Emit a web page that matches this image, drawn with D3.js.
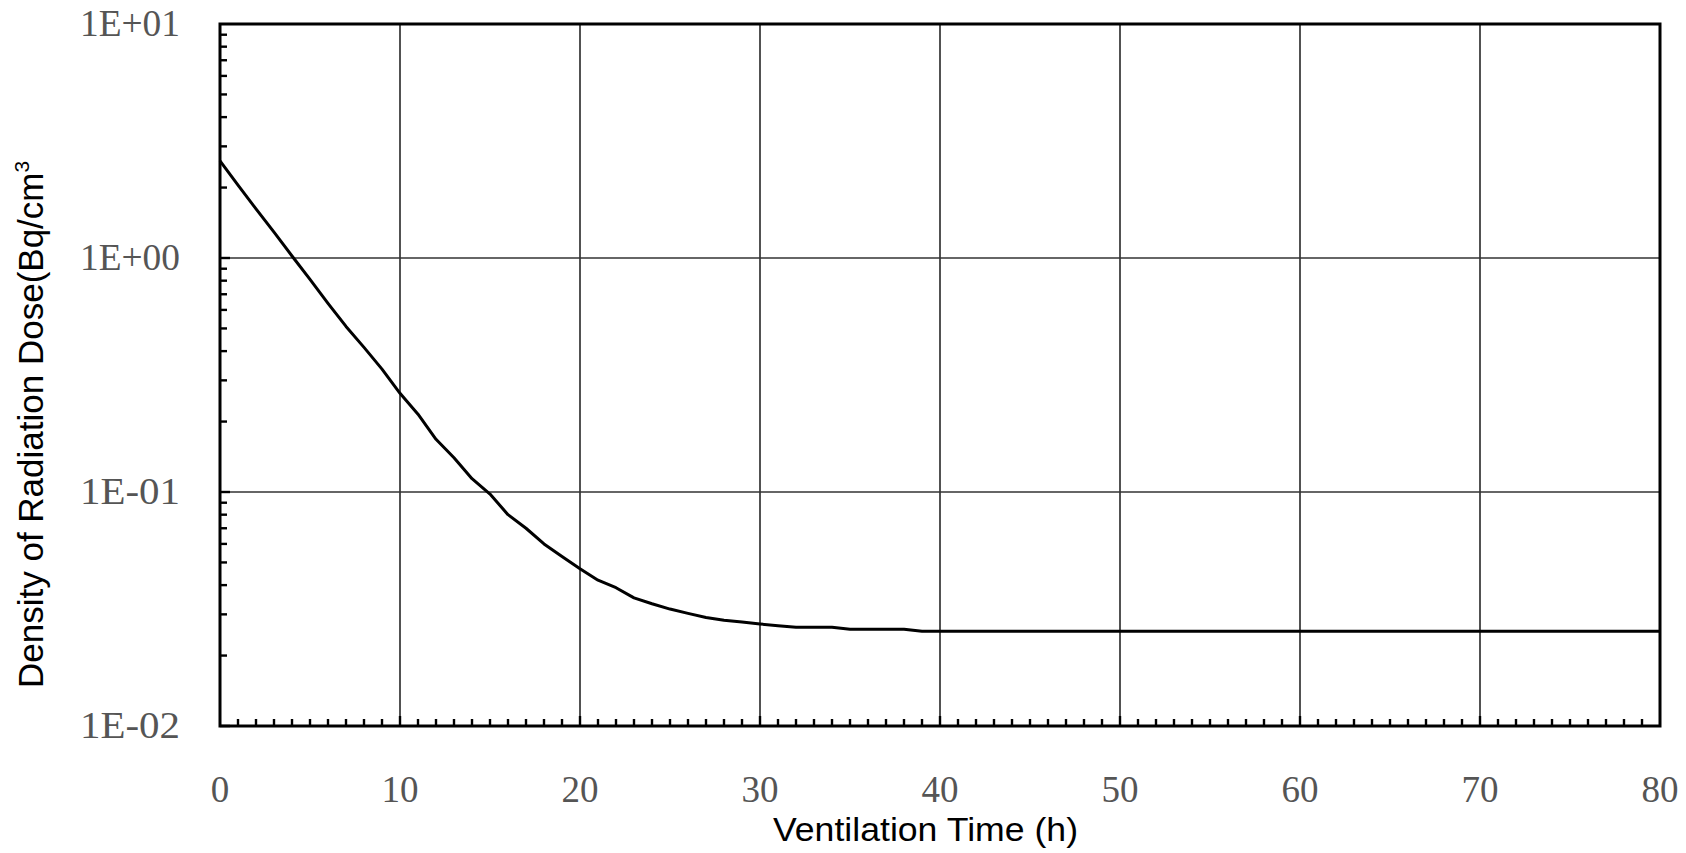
<!DOCTYPE html>
<html>
<head>
    <meta charset="utf-8">
    <title>Ventilation Time vs Radiation Dose</title>
    <script src="https://d3js.org/d3.v7.min.js"></script>
    <style>
        body { margin: 0; background: #fff; }
        .tick-label { font-family: "Liberation Serif", serif; font-size: 37px; fill: #555; }
        .axis-title { font-family: "Liberation Sans", Arial, sans-serif; fill: #000; }
    </style>
</head>
<body>
<script>
    // hourly readings of the curve (t in hours, density in Bq/cm3)
    let hours = [];
    for (let h = 0; h <= 80; h++) hours.push(h);
    let density = [
        2.6, 2.05, 1.62, 1.29, 1.02, 0.81, 0.64, 0.51, 0.415, 0.335,
        0.264, 0.215, 0.168, 0.140, 0.114, 0.098, 0.080, 0.070, 0.060, 0.053,
        0.047, 0.042, 0.039, 0.0353, 0.0333, 0.0316, 0.0303, 0.0291, 0.0283, 0.0278,
        0.0273, 0.0268, 0.0264, 0.0264, 0.0264, 0.0259, 0.0259, 0.0259, 0.0259, 0.0254,
        0.0254, 0.0254, 0.0254, 0.0254, 0.0254, 0.0254, 0.0254, 0.0254, 0.0254, 0.0254,
        0.0254, 0.0254, 0.0254, 0.0254, 0.0254, 0.0254, 0.0254, 0.0254, 0.0254, 0.0254,
        0.0254, 0.0254, 0.0254, 0.0254, 0.0254, 0.0254, 0.0254, 0.0254, 0.0254, 0.0254,
        0.0254, 0.0254, 0.0254, 0.0254, 0.0254, 0.0254, 0.0254, 0.0254, 0.0254, 0.0254,
        0.0254
    ];

    let xTicks = [0, 10, 20, 30, 40, 50, 60, 70, 80];
    let yTicks = [0.01, 0.1, 1, 10];
    let yTickLabels = ["1E-02", "1E-01", "1E+00", "1E+01"];

    let width = 1686, height = 853;
    let pLeft = 220, pRight = 1660, pTop = 24, pBottom = 726;

    let svg = d3.select("body")
        .append("svg")
            .attr("width", width)
            .attr("height", height);

    let x = d3.scaleLinear().domain([0, 80]).range([pLeft, pRight]);
    let y = d3.scaleLog().domain([0.01, 10]).range([pBottom, pTop]);

    // grid
    svg.append("g")
        .selectAll("line")
        .data(xTicks.slice(1, -1))
        .join("line")
            .attr("x1", d => x(d)).attr("x2", d => x(d))
            .attr("y1", pTop).attr("y2", pBottom)
            .attr("stroke", "#333")
            .attr("stroke-width", 1.7);

    svg.append("g")
        .selectAll("line")
        .data(yTicks.slice(1, -1))
        .join("line")
            .attr("x1", pLeft).attr("x2", pRight)
            .attr("y1", d => y(d)).attr("y2", d => y(d))
            .attr("stroke", "#333")
            .attr("stroke-width", 1.7);

    // minor ticks, inside the frame
    let xMinor = d3.range(1, 80);
    svg.append("g")
        .selectAll("line")
        .data(xMinor)
        .join("line")
            .attr("x1", d => x(d)).attr("x2", d => x(d))
            .attr("y1", pBottom)
            .attr("y2", d => pBottom - (d % 10 === 0 ? 10 : 7))
            .attr("stroke", "#000")
            .attr("stroke-width", 2.4);

    let yMinor = [];
    [0.01, 0.1, 1].forEach(dec => {
        for (let k = 1; k <= 9; k++) yMinor.push({v: dec * k, major: k === 1});
    });
    svg.append("g")
        .selectAll("line")
        .data(yMinor)
        .join("line")
            .attr("x1", pLeft)
            .attr("x2", d => pLeft + (d.major ? 10 : 7))
            .attr("y1", d => y(d.v)).attr("y2", d => y(d.v))
            .attr("stroke", "#000")
            .attr("stroke-width", 2.4);

    // curve
    let line = d3.line()
        .x((d, i) => x(hours[i]))
        .y(d => y(d));

    svg.append("path")
        .datum(density)
        .attr("d", line)
        .attr("fill", "none")
        .attr("stroke", "#000")
        .attr("stroke-width", 3)
        .attr("stroke-linejoin", "round");

    // frame
    svg.append("rect")
        .attr("x", pLeft).attr("y", pTop)
        .attr("width", pRight - pLeft).attr("height", pBottom - pTop)
        .attr("fill", "none")
        .attr("stroke", "#000")
        .attr("stroke-width", 3);

    // tick labels
    svg.append("g")
        .selectAll("text")
        .data(yTicks)
        .join("text")
            .attr("class", "tick-label")
            .attr("x", 80)
            .attr("y", d => y(d) + 12)
            .attr("textLength", 100)
            .attr("lengthAdjust", "spacingAndGlyphs")
            .text((d, i) => yTickLabels[i]);

    svg.append("g")
        .selectAll("text")
        .data(xTicks)
        .join("text")
            .attr("class", "tick-label")
            .attr("x", d => x(d))
            .attr("y", 802)
            .attr("text-anchor", "middle")
            .text(d => d);

    // axis titles
    svg.append("text")
        .attr("class", "axis-title")
        .attr("x", 773)
        .attr("y", 841)
        .attr("font-size", 34)
        .attr("textLength", 305)
        .attr("lengthAdjust", "spacingAndGlyphs")
        .text("Ventilation Time (h)");

    let yt = svg.append("text")
        .attr("class", "axis-title")
        .attr("transform", "translate(43,688) rotate(-90)")
        .attr("font-size", 35);
    yt.append("tspan").text("Density of Radiation Dose(Bq/cm");
    yt.append("tspan")
        .attr("font-size", 21)
        .attr("dy", -14)
        .text("3");
</script>
</body>
</html>
